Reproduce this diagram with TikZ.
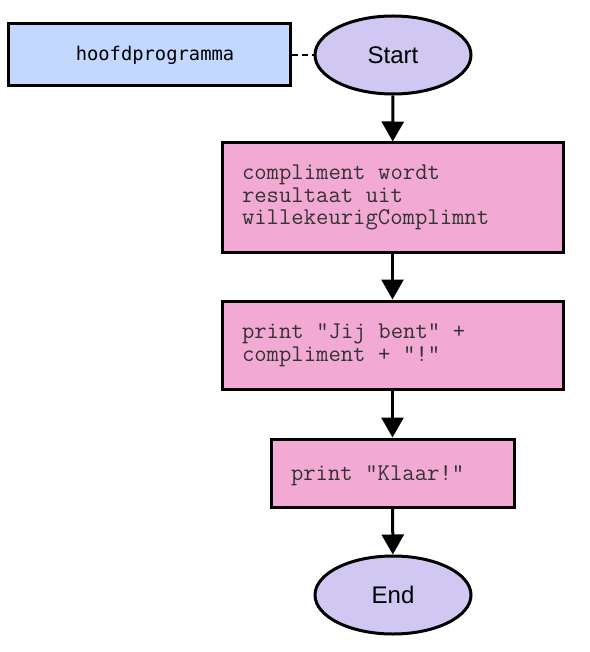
\documentclass[tikz,border=0pt]{standalone}
\usepackage{fontspec}
\setsansfont{Liberation Sans}
\newfontfamily\labelfont{DejaVu Sans Mono}
\usepackage{tikz}
\usetikzlibrary{arrows.meta,shapes.geometric,positioning}

\definecolor{mainblue}{HTML}{C2D8FF}
\definecolor{termlilac}{HTML}{D0C8F2}
\definecolor{steppink}{HTML}{F2AAD4}
\definecolor{codegray}{HTML}{333333}

\begin{document}
\begin{tikzpicture}[
        x=1pt, y=-1pt,
        line width=3pt,
        terminal/.style={ellipse, draw, fill=termlilac, minimum width=156pt, minimum height=78pt,
            inner sep=0pt, font=\sffamily\fontsize{24}{27}\selectfont},
        stepbox/.style={rectangle, draw, fill=steppink, inner xsep=20pt, inner ysep=0pt, align=left,
            text=codegray, font=\ttfamily\fontsize{24}{22.5}\selectfont,
            execute at begin node={\spaceskip=0.525em\relax}},
        flow/.style={draw, -{Triangle[length=20pt, width=22pt]}},
    ]
    \useasboundingbox (0,0) rectangle (589,652);

    % === LABEL ===
    \node[rectangle, draw, fill=mainblue, minimum width=282pt, minimum height=62pt, inner sep=0pt,
        font=\labelfont\fontsize{18.8}{20}\selectfont] (main) at (149,55) {\hspace*{12pt}hoofdprogramma};

    % === FLOW ===
    \node[terminal] (start) at (393,55) {Start};

    \node[stepbox, text width=301pt, minimum height=109pt] (s1) at (392.5,197.5)
        {compliment wordt\\resultaat uit\\willekeurigComplimnt};

    \node[stepbox, text width=301pt, minimum height=88pt] (s2) at (392.5,345)
        {print "Jij bent" +\\compliment + "!"};

    \node[stepbox, text width=203pt, minimum height=68pt, text depth=0pt] (s3) at (392.5,473)
        {print "Klaar!"};

    \node[terminal] (end) at (393,595) {End};

    \draw[line width=1.2pt, dashed, dash pattern=on 6pt off 4pt] (main) -- (start);
    \draw[flow] (start) -- (s1);
    \draw[flow] (s1) -- (s2);
    \draw[flow] (s2) -- (s3);
    \draw[flow] (s3) -- (end);

\end{tikzpicture}
\end{document}
